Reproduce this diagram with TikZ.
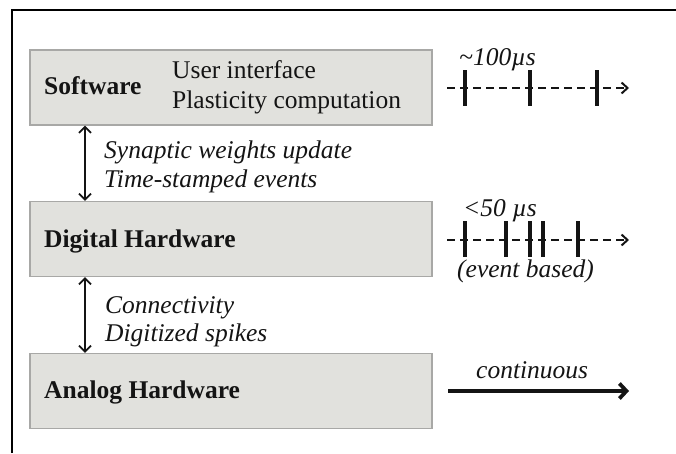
\documentclass[tikz,border=0pt]{standalone}
\usepackage{fontspec}
\setmainfont{Liberation Serif}
\usetikzlibrary{arrows.meta}
\definecolor{boxfill}{HTML}{E1E1DD}
\definecolor{boxline}{HTML}{A8A8A6}
\definecolor{ink}{HTML}{141414}
\begin{document}
\begin{tikzpicture}[x=1pt,y=-1pt,
  every node/.style={font=\fontsize{25.5}{29}\selectfont, text=ink, inner sep=0pt},
  layerbox/.style={draw=boxline, fill=boxfill, line width=1.2pt, minimum width=402pt, minimum height=75pt},
  lbl/.style={anchor=base west},
  dbl/.style={draw=ink, line width=1.8pt, {Straight Barb[length=6pt,width=12pt]}-{Straight Barb[length=6pt,width=12pt]}},
  tline/.style={draw=ink, line width=2pt, dash pattern=on 8pt off 5pt, -{Straight Barb[length=6pt,width=11pt]}},
  tick/.style={draw=ink, line width=4pt},
  contarrow/.style={draw=ink, line width=3.8pt, -{Straight Barb[length=7pt,width=15pt]}}
]
\useasboundingbox (0,0) rectangle (676,453);
% outer frame (left and top edges visible)
\draw[line width=2.5pt, black] (12,453) -- (12,10) -- (676,10);

% layer boxes
\node[layerbox] (sw) at (231,87.5) {};
\node[layerbox] (dh) at (231,239) {};
\node[layerbox] (ah) at (231,391) {};

% box texts
\node[lbl, font=\fontsize{25.5}{29}\selectfont\bfseries] (swt) at (44,94) {Software};
\node[lbl] (ui) at (172,78) {User interface};
\node[lbl] (pc) at (172,108) {Plasticity computation};
\node[lbl, font=\fontsize{25.5}{29}\selectfont\bfseries] (dht) at (44,247) {Digital Hardware};
\node[lbl, font=\fontsize{25.5}{29}\selectfont\bfseries] (aht) at (44,398) {Analog Hardware};

% vertical connectors
\coordinate (ax) at (85,0);
\draw[dbl] (sw.south -| ax) -- (dh.north -| ax);
\draw[dbl] (dh.south -| ax) -- (ah.north -| ax);

% connector labels
\node[lbl, font=\fontsize{25.5}{29}\selectfont\itshape] (l1) at (104,158) {Synaptic weights update};
\node[lbl, font=\fontsize{25.5}{29}\selectfont\itshape] (l2) at (104,187) {Time-stamped events};
\node[lbl, font=\fontsize{25.5}{29}\selectfont\itshape] (l3) at (105,313) {Connectivity};
\node[lbl, font=\fontsize{25.5}{29}\selectfont\itshape] (l4) at (105,341) {Digitized spikes};

% software timeline
\coordinate (t1s) at (447,88);
\coordinate (t1e) at (629,88);
\draw[tline] (t1s) -- (t1e);
\foreach \x in {465,530,597} \draw[tick] (\x,70) -- (\x,106);
\node[lbl, font=\fontsize{25.5}{29}\selectfont\itshape] (t1l) at (459,65) {\textasciitilde 100µs};

% digital timeline
\coordinate (t2s) at (447,240);
\coordinate (t2e) at (629,240);
\draw[tline] (t2s) -- (t2e);
\foreach \x in {465,506,530,543,578} \draw[tick] (\x,221) -- (\x,257);
\node[lbl, font=\fontsize{25.5}{29}\selectfont\itshape] (t2l) at (463,216) {<50 µs};
\node[lbl, font=\fontsize{25.5}{29}\selectfont\itshape] (t2b) at (457,277) {(event based)};

% analog continuous arrow
\coordinate (t3s) at (448,391);
\coordinate (t3e) at (629,391);
\draw[contarrow] (t3s) -- (t3e);
\node[lbl, font=\fontsize{25.5}{29}\selectfont\itshape] (t3l) at (476,378) {continuous};
\end{tikzpicture}
\end{document}
